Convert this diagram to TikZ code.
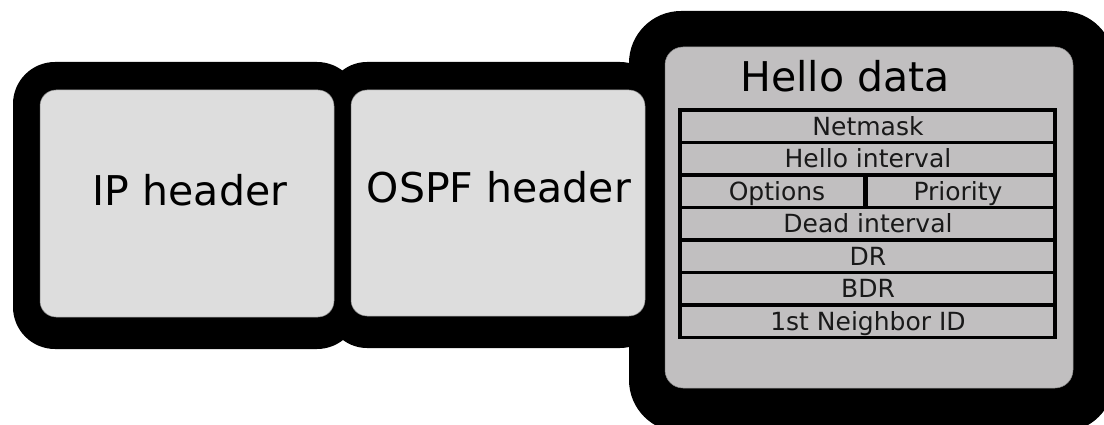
\documentclass[tikz,border=0pt]{standalone}
\usepackage{fontspec}
\setmainfont{DejaVu Sans}
\usepackage{xcolor}
\usetikzlibrary{positioning}

\definecolor{hdrgray}{HTML}{DDDDDD}
\definecolor{datagray}{HTML}{C1BFC0}

\begin{document}
\begin{tikzpicture}[x=1pt,y=-1pt,
  shell/.style={fill=black},
  hdrbox/.style={fill=hdrgray,draw=black!45,line width=0.5pt,rounded corners=16pt},
  databox/.style={fill=datagray,draw=black!45,line width=0.5pt,rounded corners=18pt},
  title/.style={font=\fontsize{41}{49}\selectfont,anchor=base,inner sep=0pt},
  field/.style={font=\fontsize{25}{30}\selectfont,anchor=base,inner sep=0pt,text=black!90},
  rule/.style={line width=3.5pt}]
  \useasboundingbox (0,0) rectangle (1104,425);
  \clip (0,0) rectangle (1104,425);

  % black outlines
  \fill[shell,rounded corners=42pt] (13,62) rectangle (359,349);
  \fill[shell,rounded corners=40pt] (327,62) rectangle (660,348);
  \fill[shell,rounded corners=52pt] (629,11) rectangle (1114,432);

  % header boxes
  \draw[hdrbox] (40,90) rectangle (334,317);
  \node[title] (ip) at (190,206) {IP header};
  \draw[hdrbox] (351,90) rectangle (645,316);
  \node[title] (ospf) at (499,203) {OSPF header};

  % hello part
  \draw[databox] (665,47) rectangle (1073,388);
  \node[title] (hello) at (845,92) {Hello data};

  \draw[rule] (680,110) rectangle (1055,337.5);
  \foreach \y in {142.5,175,207.5,240,272.5,305}
    \draw[rule] (680,\y) -- (1055,\y);
  \draw[line width=5pt] (865,175) -- (865,207.5);

  \foreach \i/\lab in {1/Netmask,2/Hello interval,4/Dead interval,5/DR,6/BDR,7/1st Neighbor ID}
    \node[field] (row\i) at (868,{110+32.5*\i-16.25+9}) {\lab};
  \node[field] (options) at (777,{110+32.5*3-16.25+9}) {Options};
  \node[field] (priority) at (958,{110+32.5*3-16.25+9}) {Priority};
\end{tikzpicture}
\end{document}
